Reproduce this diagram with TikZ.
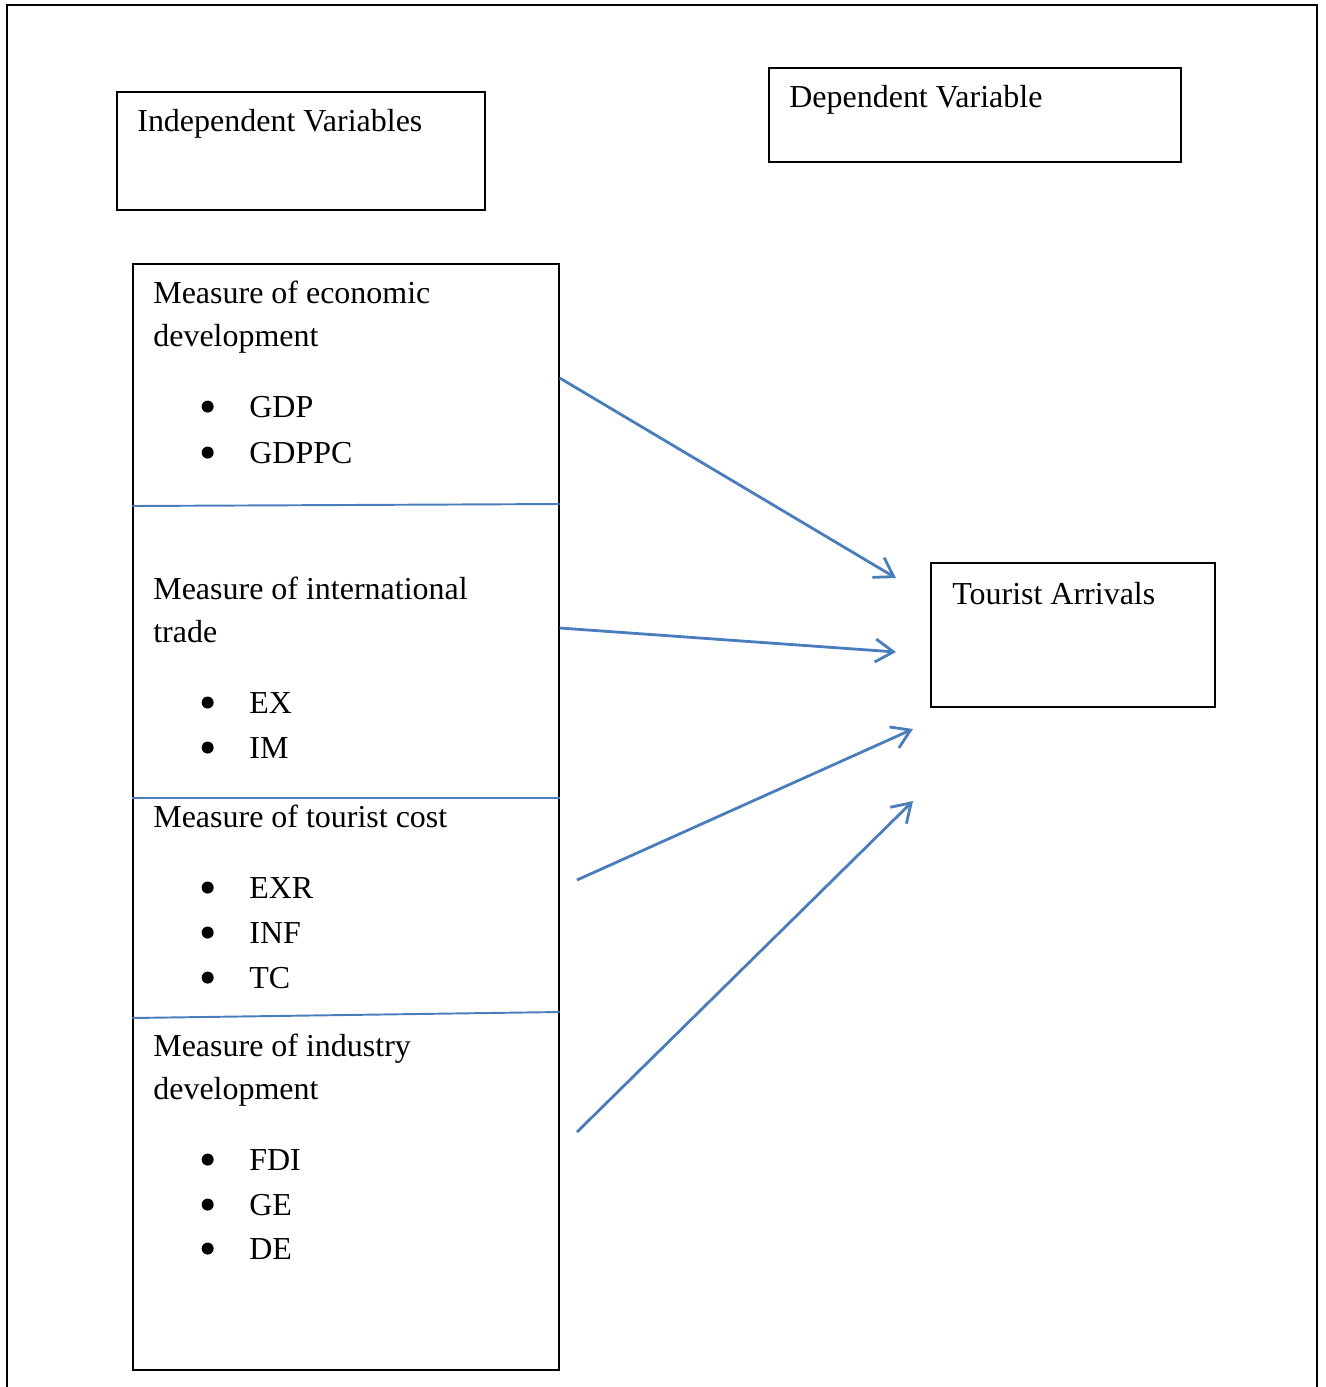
\documentclass[tikz,border=0pt]{standalone}
\usepackage{fontspec}
\setmainfont{Liberation Serif}
\usepackage{xcolor}
\usepackage{tikz}
\usetikzlibrary{positioning,arrows.meta}
\definecolor{wordblue}{HTML}{4A7EBB}
\tikzset{
  frame/.style={draw=black,line width=0.8pt,fill=none,inner sep=0pt},
  heading/.style={anchor=base west,inner sep=0pt,align=left,font=\fontsize{18.2}{24.1}\selectfont},
  item/.style={heading},
  dot/.style={circle,fill=black,inner sep=0pt,minimum size=0.24cm},
  divider/.style={draw=wordblue,line width=1.1pt},
  link/.style={-{Straight Barb[length=3.6mm,width=4.6mm]},draw=wordblue,line width=1.6pt}
}
\begin{document}
\begin{tikzpicture}[x=0.02cm,y=-0.02cm]
  \useasboundingbox (0,0) rectangle (1326,1387);
  \draw[line width=1pt] (7,1390) -- (7,5) -- (1317,5) -- (1317,1390);
  % boxes
  \node[frame,minimum width=7.36cm,minimum height=2.36cm] (indep) at (301,151) {};
  \node[frame,minimum width=8.24cm,minimum height=1.88cm] (dep) at (975,115) {};
  \node[frame,minimum width=8.52cm,minimum height=22.12cm] (measures) at (346,817) {};
  \node[frame,minimum width=5.68cm,minimum height=2.88cm] (arrivals) at (1073,635) {};
  \node[heading] (indeplabel) at (137,131) {Independent Variables};
  \node[heading] (deplabel) at (789,107) {Dependent Variable};
  \node[heading] (arrivalslabel) at (952,604) {Tourist Arrivals};
  % sections of the left box (base is the last line)
  \draw[divider] (measures.west |- 0,506) -- (measures.east |- 0,504);
  \draw[divider] (measures.west |- 0,798) -- (measures.east |- 0,798);
  \draw[divider] (measures.west |- 0,1018) -- (measures.east |- 0,1012);
  \node[heading] (economic) at (153,346) {Measure of economic\\development};
  \node[item] (gdp) at (249,417) {GDP};
  \node[item] (gdppc) at (249,463) {GDPPC};
  \node[heading] (trade) at (153,642) {Measure of international\\trade};
  \node[item] (ex) at (249,713) {EX};
  \node[item] (im) at (249,758) {IM};
  \node[heading] (cost) at (153,827) {Measure of tourist cost};
  \node[item] (exr) at (249,898) {EXR};
  \node[item] (inf) at (249,943) {INF};
  \node[item] (tc) at (249,988) {TC};
  \node[heading] (industry) at (153,1099) {Measure of industry\\development};
  \node[item] (fdi) at (249,1170) {FDI};
  \node[item] (ge) at (249,1215) {GE};
  \node[item] (de) at (249,1259) {DE};
  \node[dot,left=0.7cm of gdp.west] (dgdp) {};
  \node[dot,left=0.7cm of gdppc.west] (dgdppc) {};
  \node[dot,left=0.7cm of ex.west] (dex) {};
  \node[dot,left=0.7cm of im.west] (dim) {};
  \node[dot,left=0.7cm of exr.west] (dexr) {};
  \node[dot,left=0.7cm of inf.west] (dinf) {};
  \node[dot,left=0.7cm of tc.west] (dtc) {};
  \node[dot,left=0.7cm of fdi.west] (dfdi) {};
  \node[dot,left=0.7cm of ge.west] (dge) {};
  \node[dot,left=0.7cm of de.west] (dde) {};
  % arrows into tourist arrivals
  \coordinate (econout) at (measures.east |- 0,378);
  \coordinate (tradeout) at (measures.east |- 0,628);
  \coordinate (costout) at (577,880);
  \coordinate (industryout) at (577,1132);
  \coordinate (econin) at (896,578);
  \coordinate (tradein) at (896,652);
  \coordinate (costin) at (913,729);
  \coordinate (industryin) at (913,801);
  \draw[link] (econout) -- (econin);
  \draw[link] (tradeout) -- (tradein);
  \draw[link] (costout) -- (costin);
  \draw[link] (industryout) -- (industryin);
\end{tikzpicture}
\end{document}
